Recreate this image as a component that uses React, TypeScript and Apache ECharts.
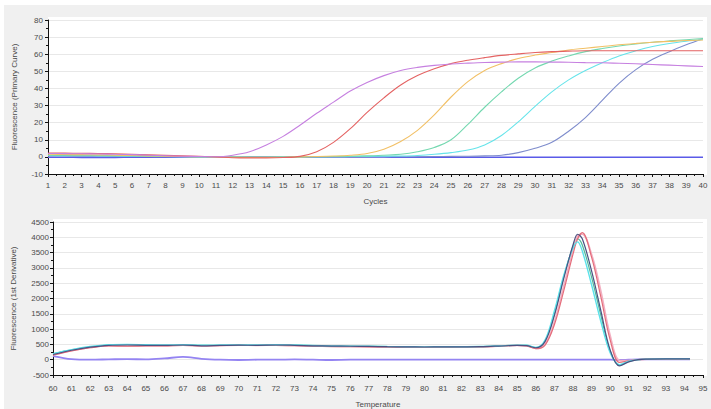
import React, { useEffect, useRef } from "react";
import * as echarts from "echarts";

// ---------- Amplification (top) ----------
const cycles = [1,2,3,4,5,6,7,8,9,10,11,12,13,14,15,16,17,18,19,20,21,22,23,24,25,26,27,28,29,30,31,32,33,34,35,36,37,38,39,40];

const ampPurple = [2.0,1.9,1.8,1.7,1.5,1.3,1.0,0.7,0.4,0.2,0.1,1,3,7,12,18.5,25.5,32,38.5,43.5,47.5,50.5,52.3,53.5,54.3,54.8,55.2,55.4,55.5,55.5,55.4,55.3,55.1,55,54.7,54.4,54,53.6,53.2,52.8];
const ampRed = [2.3,2.2,2.1,2.0,1.8,1.5,1.2,0.9,0.6,0.3,0,-0.5,-0.6,-0.6,-0.4,0.3,3,8.5,16.5,26,34.5,42,47.5,51.5,54.5,56.5,58,59.3,60.2,61,61.5,61.8,62,62,62,62,62,62,62,62];
const ampOrange = [1.5,1.4,1.3,1.2,1.0,0.8,0.6,0.4,0.2,0.1,0,-0.2,-0.3,-0.3,-0.2,0,0.2,0.5,1,2,4.5,9,15.5,24.5,35,44,50.5,54.5,57.5,59.5,61,62.5,63.5,64.5,65.5,66.3,67,67.5,68,68.3];
const ampGreen = [1.0,0.9,0.9,0.8,0.7,0.6,0.4,0.3,0.2,0.1,0,-0.1,-0.2,-0.2,-0.1,0,0.1,0.2,0.4,0.6,1.0,1.5,3,5.5,10,19,29,38,46,52,56,59,61.5,63.3,64.8,66,67,67.8,68.5,69.2];
const ampCyan = [0.8,0.7,0.7,0.6,0.5,0.4,0.3,0.2,0.1,0,0,-0.1,-0.1,-0.1,0,0,0.1,0.1,0.2,0.3,0.4,0.5,0.8,1.5,2.5,4,7,12.5,20.5,29.5,38,45,50.5,55,59,62,64.5,66.3,67.6,68.6];
const ampSlate = [0.5,0.5,0.4,0.4,0.3,0.3,0.2,0.1,0.1,0,0,0,-0.1,-0.1,-0.1,0,0,0,0,0,0.1,0.1,0.1,0.2,0.3,0.4,0.6,1,2.5,5,8.5,15,23,33,43,51,57,61.5,65.5,69];
const ampNtc = [-0.2,-0.2,-0.3,-0.3,-0.3,-0.2,-0.2,-0.2,-0.1,-0.1,-0.1,-0.1,0,0,0,0,0,-0.1,-0.1,-0.1,-0.1,-0.2,-0.2,-0.2,-0.2,-0.2,-0.2,-0.2,-0.2,-0.2,-0.2,-0.2,-0.2,-0.2,-0.2,-0.2,-0.2,-0.2,-0.2,-0.2];

// ---------- Melt derivative (bottom) ----------
const temps = [60,61,62,63,64,65,66,67,68,69,70,71,72,73,74,75,76,77,78,79,80,81,82,83,84,85,85.5,86,86.5,87,87.5,88,88.25,88.5,89,89.5,90,90.5,91,91.5,92,93,94.3];

const meltDark = [170,310,410,470,480,470,465,480,455,465,475,470,480,470,455,445,440,435,425,420,415,420,420,425,445,470,460,390,600,1450,2650,3750,4100,3950,2900,1600,320,-200,-70,0,20,30,30];
const meltCyan = [200,330,430,490,500,490,480,490,470,480,485,480,490,480,465,450,445,440,430,425,420,425,425,430,450,475,470,400,650,1600,2750,3650,3850,3550,2450,1250,230,-160,-50,0,20,30,30];
const meltRed = [150,290,390,450,440,450,455,470,450,460,470,465,470,460,440,430,425,420,410,410,405,410,415,420,440,465,450,360,480,1150,2250,3450,3950,4150,3350,2050,650,-90,-40,0,10,20,20];
const meltPink = [160,300,400,460,450,460,460,475,455,462,472,468,475,465,450,440,430,425,415,412,410,414,418,423,442,468,455,370,520,1250,2400,3600,4050,4100,3450,2250,800,-20,-30,0,15,25,25];
const meltGreen = [190,320,420,480,490,480,470,485,465,470,480,475,485,475,460,448,442,438,428,422,418,422,422,428,448,472,465,395,620,1500,2700,3700,3950,3750,2700,1450,280,-180,-60,0,20,30,30];
const meltFlat = [120,20,0,10,20,10,40,90,30,0,-10,0,0,10,0,-10,0,0,0,0,0,0,0,0,0,0,0,0,0,0,0,0,0,0,0,0,0,-10,0,10,10,10,10];

const FONT = "Liberation Sans";
const TXT = "#4a4a4a";

function pairs(xs: number[], ys: number[]) {
  return ys.map((v, i) => [xs[i], v]);
}

export default function App() {
  const ref = useRef<HTMLDivElement>(null);
  useEffect(() => {
    if (!ref.current) return;
    const chart = echarts.init(ref.current, undefined, { renderer: "svg" });

    const axisCommon = {
      axisLine: { onZero: false, lineStyle: { color: "#111", width: 1 } },
      axisTick: { show: true, length: 3, lineStyle: { color: "#111" } },
      minorTick: { show: true, splitNumber: 2, length: 2, lineStyle: { color: "#111" } },
      axisLabel: { color: TXT, fontSize: 8, fontFamily: FONT, formatter: (v: number) => String(v) },
      nameTextStyle: { color: TXT, fontSize: 8, fontFamily: FONT },
    };

    const topLine = (name: string, data: number[], color: string, width = 1.1) => ({
      name, type: "line", xAxisIndex: 0, yAxisIndex: 0, symbol: "none", smooth: 0.35,
      lineStyle: { color, width }, data: pairs(cycles, data), z: 3,
    });
    const botLine = (name: string, data: number[], color: string, width = 1.2) => ({
      name, type: "line", xAxisIndex: 1, yAxisIndex: 1, symbol: "none", smooth: 0.35,
      lineStyle: { color, width }, data: pairs(temps, data), z: 3,
    });

    chart.setOption({
      animation: false,
      graphic: [
        { type: "rect", z: -3, shape: { x: 4, y: 5, width: 707, height: 404 }, style: { fill: "#f0f0f0" } },
        { type: "rect", z: -2, shape: { x: 48, y: 17, width: 659, height: 158 }, style: { fill: "#ffffff" } },
        { type: "rect", z: -2, shape: { x: 53, y: 219, width: 654, height: 157 }, style: { fill: "#ffffff" } },
      ],
      grid: [
        { left: 48, right: 8, top: 20, bottom: 235 },
        { left: 53, right: 8, top: 222, bottom: 34 },
      ],
      xAxis: [
        {
          ...axisCommon, type: "value", gridIndex: 0, min: 1, max: 40, interval: 1,
          name: "Cycles", nameLocation: "middle", nameGap: 23,
          splitLine: { show: false },
          axisLabel: { ...axisCommon.axisLabel, margin: 7 },
        },
        {
          ...axisCommon, type: "value", gridIndex: 1, min: 60, max: 95, interval: 1,
          name: "Temperature", nameLocation: "middle", nameGap: 25,
          splitLine: { show: false },
          axisLabel: { ...axisCommon.axisLabel, margin: 9 },
        },
      ],
      yAxis: [
        {
          ...axisCommon, type: "value", gridIndex: 0, min: -10, max: 80, interval: 10,
          name: "Fluorescence (Primary Curve)", nameLocation: "middle", nameGap: 30,
          splitLine: { show: true, lineStyle: { color: "#e8e8e8", width: 1 } },
          axisLabel: { ...axisCommon.axisLabel, margin: 5 },
        },
        {
          ...axisCommon, type: "value", gridIndex: 1, min: -500, max: 4500, interval: 500,
          name: "Fluorescence (1st Derivative)", nameLocation: "middle", nameGap: 36,
          splitLine: { show: true, lineStyle: { color: "#e8e8e8", width: 1 } },
          axisLabel: { ...axisCommon.axisLabel, margin: 4 },
        },
      ],
      series: [
        topLine("NTC", ampNtc, "#5a5ae8", 1.6),
        topLine("S6", ampSlate, "#7e8ccc"),
        topLine("S5", ampCyan, "#66e4ea"),
        topLine("S4", ampGreen, "#74d8b0"),
        topLine("S3", ampOrange, "#f2c066"),
        topLine("S2", ampRed, "#e46262"),
        topLine("S1", ampPurple, "#c680e0"),
        botLine("Flat", meltFlat, "#9484f2", 1.8),
        botLine("Green", meltGreen, "#52b89a"),
        botLine("Pink", meltPink, "#f2b0c2", 1.6),
        botLine("Red", meltRed, "#e46c7a"),
        botLine("Cyan", meltCyan, "#5ae2ea", 1.4),
        botLine("Dark", meltDark, "#4a5282"),
      ],
    });
    return () => chart.dispose();
  }, []);

  return (
    <div style={{ position: "fixed", left: 0, top: 0, width: 711, height: 409, background: "#ffffff" }}>
      <div ref={ref} style={{ width: 711, height: 409 }} />
    </div>
  );
}
